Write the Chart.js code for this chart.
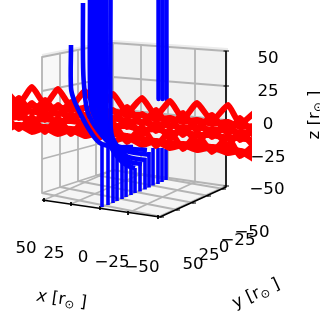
<!DOCTYPE html>
<html>
<head>
<meta charset="utf-8">
<style>html,body{margin:0;padding:0;background:#fff}canvas{display:block}</style>
<script src="https://cdn.jsdelivr.net/npm/chart.js@4"></script>
</head>
<body>
<canvas id="orbitChart" width="320" height="323"></canvas>
<script>
// tick labels
const xTicks = ['50', '25', '0', '\u221225', '\u221250'];
const yTicks = ['50', '25', '0', '\u221225', '\u221250'];
const zTicks = ['50', '25', '0', '\u221225', '\u221250'];

// red orbits, sampled at the same horizontal positions
const redAt = [5, 19, 32, 45, 58, 71, 85, 99, 113, 127, 142, 156, 170, 183, 197, 212, 228, 240, 255];
const red1 = [90, 104, 87, 105, 89, 107, 91, 109, 94, 113, 98, 116, 101, 119, 103, 121, 105, 124, 112];
const red2 = [103, 118, 103, 120, 105, 121, 107, 124, 110, 127, 114, 131, 118, 135, 120, 137, 123, 140, 129];
const red3 = [116, 129, 117, 132, 118, 134, 120, 138, 123, 142, 127, 146, 131, 149, 134, 152, 137, 156, 144];
const red4 = [113, 98, 113, 100, 115, 102, 117, 104, 120, 107, 124, 110, 128, 113, 131, 115, 134, 118, 137];
const red5 = [124, 110, 125, 112, 126, 114, 128, 116, 131, 119, 135, 123, 139, 127, 142, 129, 145, 132, 148];
const red6 = [130, 125, 132, 128, 134, 130, 136, 133, 141, 137, 145, 141, 148, 145, 150, 147, 153, 151, 160];
const red7 = [106, 108, 105, 109, 107, 110, 108, 112, 111, 115, 115, 119, 118, 122, 120, 124, 122, 127, 126];
const red8 = [112, 114, 111, 115, 113, 116, 115, 118, 118, 121, 122, 125, 125, 128, 127, 130, 130, 133, 133];
const red9 = [119, 117, 120, 119, 121, 121, 123, 122, 126, 126, 130, 129, 133, 132, 135, 135, 138, 138, 141];
const red10 = [125, 125, 127, 127, 128, 129, 130, 132, 134, 136, 139, 141, 143, 144, 145, 147, 148, 151, 154];
const redSeries = [red1, red2, red3, red4, red5, red6, red7, red8, red9, red10];

// blue columns at the bottom
const barAt = [102, 108, 113, 117, 122, 126, 131, 135, 140, 145, 149, 153, 158, 162, 166];
const barBottom = [207, 205, 203, 201, 199, 197, 195, 193, 191.5, 189.5, 187.5, 185.5, 184, 182, 180];
const barTop = [143, 146, 148, 152, 155, 160, 165, 168, 163, 158, 152, 148, 148, 148, 149];

// blue columns coming in from the top, behind the red
const upperAt = [158.5, 162.5, 166.5];
const upperEnd = [99, 99, 99];

// blue curves in front of the red
const curveAX = [71, 71, 74, 80, 90, 100, 115, 133];
const curveAY = [45, 88, 100, 113, 131, 143, 147, 147];
const curveBX = [83, 83, 84, 88, 100, 110, 125, 147];
const curveBY = [3, 60, 85, 113, 133, 143, 148, 150];
const curveCX = [90, 90, 92, 102, 115, 130, 150];
const curveCY = [-5, 85, 110, 130, 147, 152, 155];
const curveDX = [94, 94, 96, 104, 118, 132, 146];
const curveDY = [-5, 100, 118, 136, 152, 158, 160];
const curveEX = [98, 98, 100, 108, 120, 130, 142];
const curveEY = [-5, 100, 120, 140, 156, 162, 164];
const curveFX = [102, 102, 104, 110, 120, 128, 135];
const curveFY = [-5, 100, 125, 145, 160, 166, 168];
const curveGX = [106, 106, 108, 114, 122, 131];
const curveGY = [-5, 110, 130, 150, 160, 165];
const curveHX = [110.5, 110.5, 112, 118, 130];
const curveHY = [-5, 120, 136, 147, 160];
const curves = [
  [curveAX, curveAY], [curveBX, curveBY], [curveCX, curveCY], [curveDX, curveDY],
  [curveEX, curveEY], [curveFX, curveFY], [curveGX, curveGY], [curveHX, curveHY]
];

// box of the 3d axes, grid line ends per tick
const wallX = [42, 60, 78, 96, 113];
const wallTop = [57, 53.5, 50, 46.5, 43];
const wallBottom = [193, 187, 181, 175, 170];
const backX = [113, 141, 168, 195, 226];
const backTop = [43, 45, 47, 49, 51];
const backBottom = [170, 174, 178, 182, 186];
const leftZ = [57, 91, 125, 159, 193];
const backZ = [43, 77, 109, 140, 170];
const rightZ = [51, 86, 120, 153, 186];
const xAxisX = [44, 71, 100, 128, 158];
const xAxisY = [200, 204, 208, 213, 217];
const yAxisX = [162, 178, 194, 209, 224];
const yAxisY = [217, 210, 203, 196, 189];

const toPoints = (xs, ys) => xs.map((x, i) => ({ x, y: ys[i] }));
const datasets = [];
const addLine = (points, color, width, order, tension) => datasets.push({
  data: points, borderColor: color, borderWidth: width, order, tension: tension || 0,
  pointRadius: 0, borderCapStyle: 'butt', borderJoinStyle: 'round', clip: 0, showLine: true, fill: false
});

const gridColor = '#b4b4b4';
addLine([{ x: 42, y: 55 }, { x: 113, y: 41 }, { x: 228, y: 49 }], '#ececec', 2, 6);
for (let i = 0; i < 5; i++) {
  addLine([{ x: wallX[i], y: wallTop[i] }, { x: wallX[i], y: wallBottom[i] }, { x: yAxisX[i], y: yAxisY[i] }], gridColor, 1.8, 5);
  addLine([{ x: backX[i], y: backTop[i] }, { x: backX[i], y: backBottom[i] }, { x: xAxisX[i], y: xAxisY[i] }], gridColor, 1.8, 5);
  addLine([{ x: 42, y: leftZ[i] }, { x: 113, y: backZ[i] }, { x: 226, y: rightZ[i] }], gridColor, 1.8, 5);
}
// black axes
addLine([{ x: 42, y: 200 }, { x: 160, y: 217 }, { x: 226, y: 187 }, { x: 226, y: 51 }], '#000', 1.6, 4);
for (let i = 0; i < 5; i++) {
  addLine([{ x: xAxisX[i], y: xAxisY[i] - 2 }, { x: xAxisX[i], y: xAxisY[i] + 2 }], '#000', 1, 4);
  addLine([{ x: yAxisX[i] - 2, y: yAxisY[i] }, { x: yAxisX[i] + 2, y: yAxisY[i] }], '#000', 1, 4);
  addLine([{ x: 223.5, y: rightZ[i] }, { x: 229, y: rightZ[i] }], '#000', 1, 4);
}
// blue behind red
upperAt.forEach((x, i) => addLine([{ x, y: -5 }, { x, y: upperEnd[i] }], '#0000ff', 4.4, 3));
barAt.forEach((x, i) => addLine([{ x, y: barBottom[i] }, { x, y: barTop[i] }], '#0000ff', 3.6, 3));
// red
redSeries.forEach(ys => addLine(toPoints(redAt, ys), '#ff0000', 6, 2, 0.15));
// blue in front
curves.forEach(c => addLine(toPoints(c[0], c[1]), '#0000ff', 4.6, 1, 0.35));

// panes behind everything
const panePlugin = {
  id: 'panes',
  beforeDatasetsDraw(chart) {
    const { ctx, scales: { x, y } } = chart;
    const fillPane = (pts, color) => {
      ctx.beginPath();
      pts.forEach((p, i) => {
        const px = x.getPixelForValue(p[0]), py = y.getPixelForValue(p[1]);
        if (i) ctx.lineTo(px, py); else ctx.moveTo(px, py);
      });
      ctx.closePath();
      ctx.fillStyle = color;
      ctx.fill();
    };
    fillPane([[42, 55], [113, 41], [113, 170], [42, 200]], '#f8f8f8');
    fillPane([[113, 41], [228, 49], [226, 187], [113, 170]], '#f1f1f1');
    fillPane([[42, 200], [113, 170], [226, 187], [160, 217]], '#f5f5f5');
  }
};

// tick labels and axis titles
const labelPlugin = {
  id: 'labels',
  afterDatasetsDraw(chart) {
    const { ctx, scales: { x, y } } = chart;
    const put = (text, px, py) => ctx.fillText(text, x.getPixelForValue(px), y.getPixelForValue(py));
    ctx.save();
    ctx.fillStyle = '#000';
    ctx.font = '16.7px "DejaVu Sans"';
    ctx.textAlign = 'center';
    ctx.textBaseline = 'middle';
    const xLabelX = [26, 54, 83, 112, 142], xLabelY = [249, 254, 258, 263, 268];
    const yLabelX = [193, 209, 224, 238, 252], yLabelY = [265, 256, 248, 241, 233];
    const zLabelX = [268, 268, 268, 268, 267], zLabelY = [59, 92, 125, 158, 190];
    xTicks.forEach((t, i) => put(t, xLabelX[i], xLabelY[i]));
    yTicks.forEach((t, i) => put(t, yLabelX[i], yLabelY[i]));
    zTicks.forEach((t, i) => put(t, zLabelX[i], zLabelY[i]));

    const title = (name, italic, px, py, angle) => {
      ctx.save();
      ctx.translate(x.getPixelForValue(px), y.getPixelForValue(py));
      ctx.rotate(angle * Math.PI / 180);
      ctx.textAlign = 'left';
      ctx.textBaseline = 'alphabetic';
      const runs = [
        [name + ' ', (italic ? 'italic ' : '') + '16.7px "DejaVu Sans"', 0],
        ['[', '16.7px "DejaVu Sans"', 0],
        ['r', '16.7px "DejaVu Sans"', 0],
        ['\u2299', '11.7px "DejaVu Sans"', 3],
        [' ]', '16.7px "DejaVu Sans"', 0]
      ];
      let pen = 0;
      runs.forEach(r => { ctx.font = r[1]; pen += ctx.measureText(r[0]).width; });
      let at = -pen / 2;
      runs.forEach(r => {
        ctx.font = r[1];
        ctx.fillText(r[0], at, r[2]);
        at += ctx.measureText(r[0]).width;
      });
      ctx.restore();
    };
    title('x', true, 61, 304, 8);
    title('y', false, 258, 298, -25);
    title('z', false, 319, 115, -90);
    ctx.restore();
  }
};

new Chart(document.getElementById('orbitChart').getContext('2d'), {
  type: 'scatter',
  data: { datasets },
  options: {
    responsive: false,
    animation: false,
    layout: { padding: { left: 12, right: 68, top: 0, bottom: 83 } },
    plugins: { legend: { display: false }, tooltip: { enabled: false } },
    scales: {
      x: { type: 'linear', min: 12, max: 252, display: false },
      y: { type: 'linear', min: 0, max: 240, reverse: true, display: false }
    }
  },
  plugins: [panePlugin, labelPlugin]
});
</script>
</body>
</html>
